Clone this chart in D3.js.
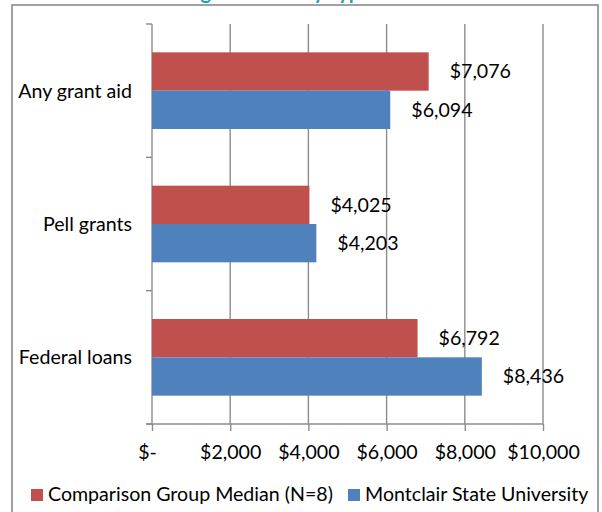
<!DOCTYPE html>
<html>
<head>
<meta charset="utf-8">
<script src="https://cdn.jsdelivr.net/npm/d3@7"></script>
<style>
  body { margin: 0; background: #fff; }
  text { font-family: Lato, "Noto Sans", sans-serif; fill: #000; }
</style>
</head>
<body>
<div id="chart"></div>
<script>
// chart data
var categories = ["Any grant aid", "Pell grants", "Federal loans"];
var seriesNames = ["Comparison Group Median (N=8)", "Montclair State University"];
var comparisonValues = [7076, 4025, 6792];
var montclairValues = [6094, 4203, 8436];
var xTicks = [0, 2000, 4000, 6000, 8000, 10000];
var titleText = "Average Amount by Type of Aid";

var colors = ["#C0504D", "#4F81BD"];
var width = 602, height = 512;
var plot = { left: 152, right: 543, top: 24, bottom: 424 };

var svg = d3.select("#chart")
  .append("svg")
  .attr("width", width)
  .attr("height", height);

// pick a font size so the text widths land close to the original
var probe = svg.append("text").attr("font-size", 20).text(seriesNames[0]);
var fs = 20 * 285 / probe.node().getComputedTextLength();
probe.remove();

// title sits above the frame, only the descenders show
svg.append("text")
  .attr("x", 149)
  .attr("y", -1.5)
  .attr("font-size", 20)
  .attr("font-weight", "bold")
  .style("fill", "#22A3A3")
  .text(titleText);

// outer frame
svg.append("rect")
  .attr("x", 12)
  .attr("y", 5)
  .attr("width", 586)
  .attr("height", 530)
  .attr("fill", "none")
  .attr("stroke", "#8a8a8a")
  .attr("stroke-width", 1.6);

var x = d3.scaleLinear()
  .domain([0, 10000])
  .range([plot.left, plot.right]);

var y0 = d3.scaleBand()
  .domain(categories)
  .range([plot.top, plot.bottom])
  .paddingInner(0.425)
  .paddingOuter(0.2125);

var y1 = d3.scaleBand()
  .domain(seriesNames)
  .range([0, y0.bandwidth()]);

// vertical gridlines
svg.append("g")
  .selectAll("line")
  .data(xTicks)
  .enter()
  .append("line")
  .attr("x1", function(d) { return x(d); })
  .attr("x2", function(d) { return x(d); })
  .attr("y1", plot.top)
  .attr("y2", plot.bottom)
  .attr("stroke", "#8c8c8c")
  .attr("stroke-width", 1.4);

// category axis ticks (at band edges)
var edges = d3.range(categories.length + 1).map(function(i) {
  return plot.top + i * y0.step();
});
svg.append("g")
  .selectAll("line")
  .data(edges)
  .enter()
  .append("line")
  .attr("x1", plot.left - 6)
  .attr("x2", plot.left)
  .attr("y1", function(d) { return d; })
  .attr("y2", function(d) { return d; })
  .attr("stroke", "#8c8c8c")
  .attr("stroke-width", 1.4);

// category labels
svg.append("g")
  .selectAll("text")
  .data(categories)
  .enter()
  .append("text")
  .attr("x", 132)
  .attr("y", function(d) { return y0(d) + y0.bandwidth() / 2; })
  .attr("dy", "0.35em")
  .attr("font-size", fs)
  .style("text-anchor", "end")
  .text(function(d) { return d; });

// value axis
var xAxis = d3.axisBottom(x)
  .tickValues(xTicks)
  .tickSize(7)
  .tickSizeOuter(0)
  .tickFormat(function(d) { return d === 0 ? "$-" : "$" + d3.format(",")(d); });

var gx = svg.append("g")
  .attr("transform", "translate(0," + plot.bottom + ")")
  .call(xAxis);
gx.select(".domain").remove();
gx.append("line")
  .attr("x1", plot.left - 6)
  .attr("x2", plot.right)
  .attr("stroke", "#8c8c8c")
  .attr("stroke-width", 1.4);
gx.selectAll(".tick line")
  .attr("stroke", "#8c8c8c")
  .attr("stroke-width", 1.4);
gx.selectAll(".tick text")
  .attr("y", 35)
  .attr("dy", 0)
  .attr("font-size", fs)
  .attr("font-family", null)
  .attr("dx", function(d) { return d === 0 ? -5 : 0; })
  .style("fill", "#000");

// bars
var rows = categories.map(function(c, i) {
  return { cat: c, vals: [comparisonValues[i], montclairValues[i]] };
});

var groups = svg.append("g")
  .selectAll("g")
  .data(rows)
  .enter()
  .append("g")
  .attr("transform", function(d) { return "translate(0," + y0(d.cat) + ")"; });

var cells = groups.selectAll("g")
  .data(function(d) {
    return d.vals.map(function(v, j) { return { name: seriesNames[j], value: v, idx: j }; });
  })
  .enter()
  .append("g");

cells.append("rect")
  .attr("x", x(0))
  .attr("y", function(d) { return y1(d.name); })
  .attr("width", function(d) { return x(d.value) - x(0); })
  .attr("height", y1.bandwidth())
  .attr("fill", function(d) { return colors[d.idx]; });

cells.append("text")
  .attr("x", function(d) { return x(d.value) + 21; })
  .attr("y", function(d) { return y1(d.name) + y1.bandwidth() / 2; })
  .attr("dy", "0.35em")
  .attr("font-size", fs)
  .text(function(d) { return "$" + d3.format(",")(d.value); });

// legend
var legendX = [31, 348];
var legend = svg.append("g")
  .selectAll("g")
  .data(seriesNames)
  .enter()
  .append("g")
  .attr("transform", function(d, i) { return "translate(" + legendX[i] + ",489)"; });

legend.append("rect")
  .attr("width", 12)
  .attr("height", 12)
  .attr("fill", function(d, i) { return colors[i]; });

legend.append("text")
  .attr("x", 17)
  .attr("y", 12)
  .attr("font-size", fs)
  .text(function(d) { return d; });
</script>
</body>
</html>
